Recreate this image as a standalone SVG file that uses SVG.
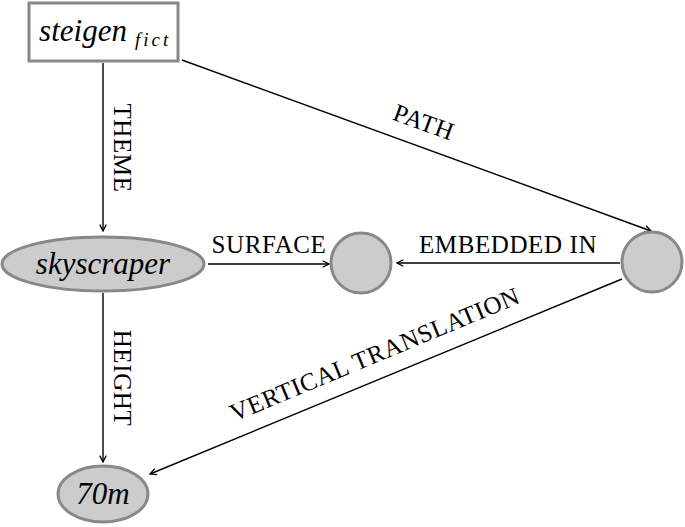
<svg xmlns="http://www.w3.org/2000/svg" width="685" height="527" viewBox="0 0 685 527">
<defs>
<style>
.node{fill:#cccccc;stroke:#888888;stroke-width:3}
.box{fill:#ffffff;stroke:#888888;stroke-width:3}
.nt{font-family:"Liberation Serif","DejaVu Serif","Times New Roman",serif;font-style:italic;font-size:31px;fill:#000;text-anchor:middle}
.lb{font-family:"Liberation Serif","DejaVu Serif","Times New Roman",serif;font-size:25px;fill:#000;text-anchor:middle;letter-spacing:0.6px}
.edge{stroke:#000;stroke-width:1.4;fill:none;marker-end:url(#ah)}
</style>
<marker id="ah" viewBox="0 0 10 10" refX="9" refY="5" markerWidth="8" markerHeight="8" markerUnits="userSpaceOnUse" orient="auto">
<path d="M1,1 L9,5 L1,9" fill="none" stroke="#000" stroke-width="1.6"/>
</marker>
</defs>
<g id="connectors">
<line class="edge" x1="103" y1="63" x2="103" y2="231"/>
<line class="edge" x1="182" y1="60" x2="651" y2="231"/>
<line class="edge" x1="208" y1="264" x2="329" y2="264"/>
<line class="edge" x1="620" y1="263" x2="397" y2="263"/>
<line class="edge" x1="103" y1="293" x2="103" y2="462"/>
<line class="edge" x1="622" y1="279" x2="150" y2="474"/>
<text class="lb" transform="translate(114,148) rotate(90)">THEME</text>
<text class="lb" transform="translate(421,130) rotate(20)">PATH</text>
<text class="lb" x="269" y="253">SURFACE</text>
<text class="lb" x="508" y="253">EMBEDDED IN</text>
<text class="lb" transform="translate(114,378) rotate(90)">HEIGHT</text>
<text class="lb" transform="translate(378,362) rotate(-22.6)">VERTICAL TRANSLATION</text>
</g>
<g id="steigen">
<rect class="box" x="29" y="3" width="149" height="58"/>
<text class="nt" x="83" y="41">steigen</text>
<text font-family="'Liberation Serif','DejaVu Serif',serif" font-style="italic" font-size="19" x="135" y="46" letter-spacing="3">fict</text>
</g>
<g id="skyscraper">
<ellipse class="node" cx="103" cy="264" rx="101" ry="27"/>
<text class="nt" x="103" y="274">skyscraper</text>
</g>
<g id="surface">
<circle class="node" cx="361" cy="263" r="30"/>
</g>
<g id="path">
<circle class="node" cx="652" cy="262" r="30"/>
</g>
<g id="h70m">
<ellipse class="node" cx="103" cy="494" rx="45" ry="28"/>
<text class="nt" x="103" y="504">70m</text>
</g>
</svg>
